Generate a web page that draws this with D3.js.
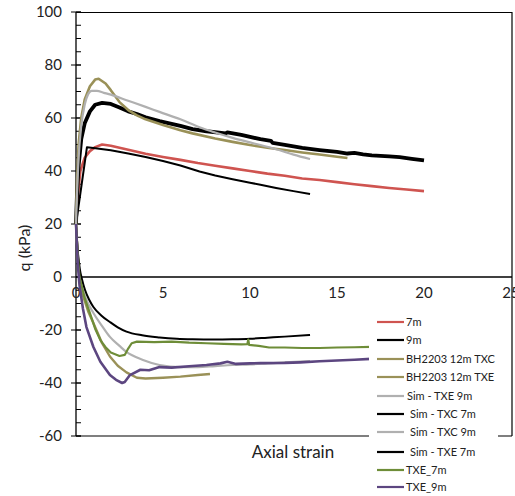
<!DOCTYPE html>
<html><head><meta charset="utf-8">
<script src="https://cdn.jsdelivr.net/npm/d3@7"></script>
<style>body{margin:0;background:#fff}text{font-family:Lato,"Open Sans",sans-serif}</style>
</head><body><svg id="c" width="515" height="496"></svg>
<script>
const xTicks = [0, 5, 10, 15, 20, 25];
const yTicks = [-60, -40, -20, 0, 20, 40, 60, 80, 100];
const yMinor = d3.range(-60, 101, 5);

const txc7m = [[0,20],[0.1,30],[0.25,40],[0.5,45],[0.8,47.5],[1.1,49],[1.5,50],[2,49.5],[3,48],[4,46.5],[5,45.3],[6,44.2],[7,43],[8,42],[9,41],[10,40],[11,39],[12,38.2],[13,37.2],[14,36.6],[15,35.8],[16,35],[17,34.3],[18,33.6],[19,33],[20,32.4]];
const txc9m = [[0,20],[0.05,30],[0.15,42],[0.3,52],[0.5,58],[0.8,62.5],[1.1,65],[1.5,65.7],[2,65.3],[2.5,64],[3,62.5],[3.5,61.5],[4,60.3],[4.8,58.8],[6,57],[6.7,55.8],[7.5,55],[8.6,54.2],[8.7,54.6],[9.5,53.6],[10.6,52],[11.2,51.4],[11.3,50.6],[12,49.9],[13,48.7],[14,47.9],[15,47.2],[15.6,46.6],[16,46.8],[16.5,46.3],[17,45.9],[18,45.5],[18.6,45.2],[19.3,44.6],[20,44]];
const bhTXC = [[0,20],[0.05,35],[0.15,50],[0.3,60],[0.5,67],[0.8,72],[1.1,74.5],[1.3,74.8],[1.7,73],[2,70.5],[2.5,66],[3,63],[3.5,61],[4,59.5],[5,57.4],[6,55.4],[6.7,54.2],[8,52.3],[9,51],[10,49.8],[11,48.8],[12,47.9],[13,47],[14,46.2],[15,45.4],[15.6,44.9]];
const bhTXE = [[0,20],[0.1,8],[0.2,0],[0.4,-7],[0.7,-13],[1,-17.4],[1.5,-25],[1.95,-30],[2.4,-33.5],[2.9,-36],[3.5,-38],[4,-38.3],[5,-38],[6,-37.6],[7,-37],[7.7,-36.6]];
const simTXE9m = [[0,20],[0.1,8],[0.2,0],[0.5,-7],[1,-13.6],[1.5,-18.5],[1.95,-22.6],[2.5,-26],[2.9,-28.3],[3.85,-31.3],[4.8,-33.2],[6,-34],[7,-34],[8,-33.6],[9,-33.2],[10,-33],[11,-32.6],[12,-32.2],[13.45,-31.7]];
const simTXC7m = [[0,20],[0.63,49],[1,48.7],[2,47.8],[3,46.6],[4,45.3],[5,43.8],[6,42.1],[7.1,39.8],[8,38.3],[9,36.9],[10,35.6],[10.6,34.8],[11.5,33.6],[12.5,32.4],[13.45,31.3]];
const simTXC9m = [[0,20],[0.05,30],[0.15,45],[0.3,57],[0.5,65],[0.7,69],[0.9,70.2],[1.2,70.2],[1.6,69.5],[2,68.8],[3,66.5],[4,64.2],[4.8,62.3],[6,59.5],[7.1,56.5],[8,54.5],[9,52.5],[10,50.8],[10.6,49.8],[11.5,48.2],[12.5,46.2],[13.45,44.5]];
const simTXE7m = [[0,20],[0.1,10],[0.22,3],[0.35,-1],[0.52,-4.9],[0.75,-8.5],[1,-11.3],[1.45,-14.5],[1.95,-17],[2.4,-19],[2.9,-20.6],[3.8,-22],[4.8,-22.8],[5.8,-23.3],[6.7,-23.5],[8,-23.6],[9,-23.5],[10,-23.3],[11,-22.9],[12,-22.5],[13.45,-21.9]];
const txe7m = [[0,20],[0.1,8],[0.2,0],[0.5,-8],[0.8,-13.6],[1.1,-19.5],[1.4,-23.8],[1.7,-26.5],[2,-28.5],[2.5,-29.8],[2.8,-29.4],[3.0,-27],[3.2,-25],[3.5,-24.4],[4.5,-24.6],[5.5,-24.4],[6.5,-24.8],[7.5,-25],[8.5,-25.2],[9.5,-25.4],[9.85,-25.3],[9.9,-23.6],[9.95,-25.6],[10.5,-26],[11.1,-26.6],[12,-26.6],[13,-26.8],[14,-26.8],[15,-26.6],[16,-26.5],[16.95,-26.4]];
const txe9m = [[0,20],[0.1,5],[0.2,-3],[0.4,-12],[0.6,-18.9],[1,-26.4],[1.4,-32],[1.95,-37],[2.3,-38.8],[2.65,-40],[2.8,-39.6],[3.1,-37],[3.7,-35],[4.2,-35.2],[4.8,-34],[5.5,-34.2],[6.7,-33.6],[7.5,-33.2],[8.3,-32.6],[8.7,-32],[9.2,-32.8],[10,-32.6],[10.6,-32.5],[12,-32.4],[12.9,-32.2],[14,-31.8],[15,-31.5],[16,-31.2],[16.95,-30.9]];

const names = ["7m","9m","BH2203 12m TXC","BH2203 12m TXE","Sim - TXE 9m","Sim - TXC 7m","Sim - TXC 9m","Sim - TXE 7m","TXE_7m","TXE_9m"];
const datasets = [txc7m, txc9m, bhTXC, bhTXE, simTXE9m, simTXC7m, simTXC9m, simTXE7m, txe7m, txe9m];
const colors = ["#cf5450","#000000","#9a9158","#9a9158","#b0b0b0","#000000","#b0b0b0","#000000","#6e8d38","#5c4680"];
const widths = [2.6,3.8,2.6,2.4,2.2,2,2.2,2,2.2,2.6];
const smooth = [false,false,false,false,true,false,true,true,false,false];

const svg = d3.select("#c");
const L = 76, R = 512, T = 12, B = 436;
const x = d3.scaleLinear().domain([0, 25]).range([L, R - 1]);
const y = d3.scaleLinear().domain([-60, 100]).range([B, T]);

// frame
svg.append("line").attr("x1",L).attr("x2",R).attr("y1",T+0.5).attr("y2",T+0.5).attr("stroke","#000").attr("stroke-width",1.2);
svg.append("line").attr("x1",R).attr("x2",R).attr("y1",T).attr("y2",B).attr("stroke","#000").attr("stroke-width",1.2);
svg.append("line").attr("x1",L).attr("x2",R).attr("y1",B).attr("y2",B).attr("stroke","#000").attr("stroke-width",1.2);

// y axis
const ya = svg.append("g").attr("transform",`translate(${L},0)`);
ya.selectAll("line.mi").data(yMinor).join("line").attr("class","mi")
  .attr("x1",0).attr("x2",5).attr("y1",d=>y(d)).attr("y2",d=>y(d)).attr("stroke","#000").attr("stroke-width",1);
ya.selectAll("line.ma").data(yTicks).join("line").attr("class","ma")
  .attr("x1",-5).attr("x2",5).attr("y1",d=>y(d)).attr("y2",d=>y(d)).attr("stroke","#000").attr("stroke-width",1);
ya.append("line").attr("x1",0).attr("x2",0).attr("y1",T).attr("y2",B).attr("stroke","#000").attr("stroke-width",1.3);
ya.selectAll("text").data(yTicks).join("text")
  .attr("x",-14).attr("y",d=>y(d)).attr("dy","0.35em").attr("text-anchor","end")
  .attr("font-size",15).attr("fill","#222").text(d=>d);

// x axis at y=0
svg.append("line").attr("x1",L).attr("x2",R).attr("y1",y(0)).attr("y2",y(0)).attr("stroke","#000").attr("stroke-width",1.3);
svg.selectAll("text.xt").data(xTicks).join("text").attr("class","xt")
  .attr("x",d=>x(d)).attr("y",y(0)+21).attr("text-anchor","middle")
  .attr("font-size",15).attr("fill","#222").text(d=>d);

// lines
datasets.forEach((ds,i)=>{
  const line = d3.line().x(d=>x(d[0])).y(d=>y(d[1])).curve(smooth[i] ? d3.curveMonotoneX : d3.curveLinear);
  svg.append("path").datum(ds).attr("d",line).attr("fill","none")
    .attr("stroke",colors[i]).attr("stroke-width",widths[i]).attr("stroke-linejoin","round");
});

// axis titles
svg.append("text").attr("transform",`translate(30,248) rotate(-90)`).attr("text-anchor","middle")
  .attr("font-size",16).attr("fill","#222").text("q (kPa)");
svg.append("text").attr("x",293).attr("y",458).attr("text-anchor","middle")
  .attr("font-size",17).attr("fill","#222").text("Axial strain");

// legend
const lg = svg.append("g");
lg.append("rect").attr("x",369).attr("y",311).attr("width",129).attr("height",185).attr("fill","#fff");
const rowsY = [322,340,359,377,396,414,432,452,470,487];
const textX = [406,406,406,406,407,410,410,410,406,406];
names.forEach((n,i)=>{
  lg.append("line").attr("x1",377).attr("x2",404).attr("y1",rowsY[i]).attr("y2",rowsY[i])
    .attr("stroke",colors[i]).attr("stroke-width",2.2);
  lg.append("text").attr("x",textX[i]).attr("y",rowsY[i]).attr("dy","0.35em")
    .attr("font-size",11).attr("fill","#222").text(n);
});
</script></body></html>
